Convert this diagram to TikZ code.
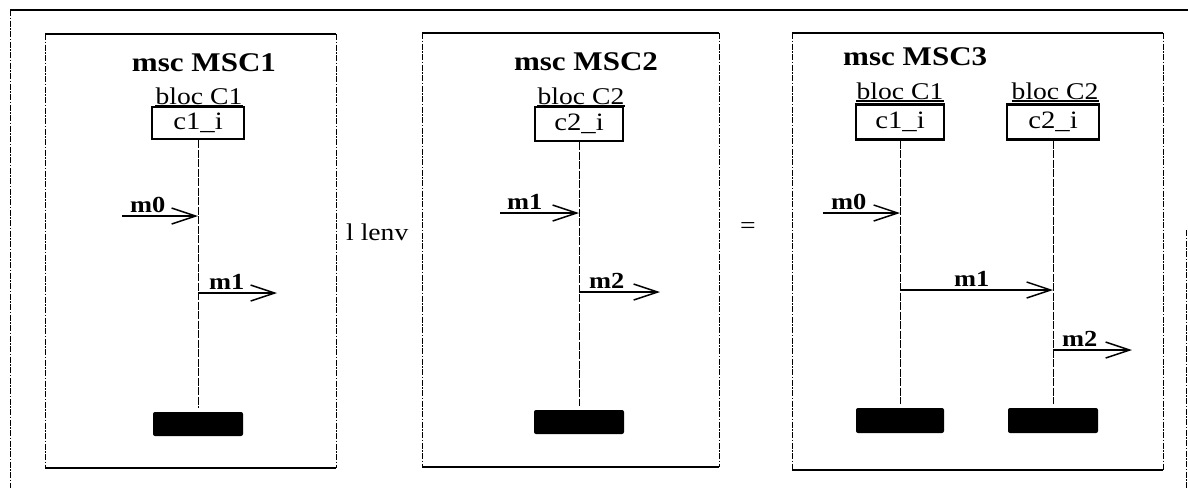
\documentclass[tikz,border=0pt]{standalone}
\usepackage{fontspec}
\setmainfont{Liberation Serif}[FakeStretch=1.15]
\usetikzlibrary{arrows.meta}
\begin{document}
\begin{tikzpicture}[x=1pt,y=-1pt,
  frameside/.style={line width=1pt, dash pattern=on 6pt off 1.5pt on 1.5pt off 1.5pt},
  frameedge/.style={line width=2.2pt},
  inst/.style={draw, line width=2.4pt, minimum width=90pt, minimum height=33pt, inner sep=0pt, font=\fontsize{25}{28}\selectfont},
  stopbar/.style={fill=black, rounded corners=2pt, minimum width=90pt, minimum height=24pt, inner sep=0pt},
  life/.style={line width=1pt, dash pattern=on 8pt off 1.5pt, shorten >=4pt},
  msg/.style={line width=1.5pt, -{Straight Barb[length=24pt,width=16pt,line width=1.5pt]}},
  titletxt/.style={font=\bfseries\fontsize{27}{30}\selectfont, inner sep=0pt, anchor=base},
  bloctxt/.style={font=\fontsize{24}{26}\selectfont, inner sep=0pt, anchor=base},
  mlab/.style={font=\bfseries\fontsize{23}{26}\selectfont, inner sep=0pt, anchor=base west},
  optxt/.style={font=\fontsize{24}{28}\selectfont, inner sep=0pt}
]
\useasboundingbox (0,0) rectangle (1188,488);
\fill[white] (0,0) rectangle (1188,488);

% outer frame
\draw[frameedge] (10,10) -- (1188,10);
\draw[frameside] (10,10) -- (10,488);
\draw[frameside] (1186,230) -- (1186,488);

% frames of the three MSCs
\draw[frameedge] (45,34) -- (336,34);
\draw[frameedge] (45,468) -- (336,468);
\draw[frameside] (45,34) -- (45,468);
\draw[frameside] (336,34) -- (336,468);

\draw[frameedge] (422,33) -- (719,33);
\draw[frameedge] (422,467) -- (719,467);
\draw[frameside] (422,33) -- (422,467);
\draw[frameside] (719,33) -- (719,467);

\draw[frameedge] (792,33) -- (1163,33);
\draw[frameedge] (792,470) -- (1163,470);
\draw[frameside] (792,33) -- (792,470);
\draw[frameside] (1163,33) -- (1163,470);

% ---------- MSC1 ----------
\node[titletxt] (t1) at (204,71) {msc MSC1};
\node[bloctxt] (bl1) at (199,104) {bloc C1};
\draw[line width=1.4pt] ([yshift=-2pt]bl1.base west) -- ([yshift=-2pt]bl1.base east);
\node[inst, minimum width=92pt, minimum height=32pt] (i1) at (198,123) {c1\_i};
\node[stopbar] (e1) at (198,424) {};
\draw[life] (i1.south) -- (e1.north);
\coordinate (p1a) at (122,216);
\draw[msg] (p1a) -- (p1a -| i1);
\node[mlab] (l1a) at (130,212) {m0};
\coordinate (p1b) at (277,293);
\draw[msg] (p1b -| i1) -- (p1b);
\node[mlab] (l1b) at (209,289) {m1};

% operators
\node[optxt, anchor=base west] (op1) at (346,240) {l lenv};
\node[optxt] (op2) at (748,228) {=};

% ---------- MSC2 ----------
\node[titletxt] (t2) at (586,70) {msc MSC2};
\node[bloctxt] (bl2) at (581,104) {bloc C2};
\draw[line width=1.4pt] ([yshift=-2pt]bl2.base west) -- ([yshift=-2pt]bl2.base east);
\node[inst, minimum width=88pt, minimum height=34pt] (i2) at (579,124) {c2\_i};
\node[stopbar] (e2) at (579,422) {};
\draw[life] (i2.south) -- (e2.north);
\coordinate (p2a) at (500,213);
\draw[msg] (p2a) -- (p2a -| i2);
\node[mlab] (l2a) at (507,209) {m1};
\coordinate (p2b) at (660,292);
\draw[msg] (p2b -| i2) -- (p2b);
\node[mlab] (l2b) at (589,288) {m2};

% ---------- MSC3 ----------
\node[titletxt, anchor=base west] (t3) at (843,65) {msc MSC3};
\node[bloctxt] (bl3a) at (900,99) {bloc C1};
\draw[line width=1.4pt] ([yshift=-2pt]bl3a.base west) -- ([yshift=-2pt]bl3a.base east);
\node[bloctxt] (bl3b) at (1055,99) {bloc C2};
\draw[line width=1.4pt] ([yshift=-2pt]bl3b.base west) -- ([yshift=-2pt]bl3b.base east);
\node[inst, minimum width=88pt, minimum height=35pt] (i3a) at (900,122) {c1\_i};
\node[inst, minimum width=92pt, minimum height=35pt] (i3b) at (1053,122) {c2\_i};
\node[stopbar, minimum width=88pt, minimum height=25pt] (e3a) at (900,420.5) {};
\node[stopbar, minimum width=90pt, minimum height=25pt] (e3b) at (1053,420.5) {};
\draw[life] (i3a.south) -- (e3a.north);
\draw[life] (i3b.south) -- (e3b.north);
\coordinate (p3a) at (823,213);
\draw[msg] (p3a) -- (p3a -| i3a);
\node[mlab] (l3a) at (831,209) {m0};
\coordinate (p3b) at (900,290);
\draw[msg] (p3b) -- (p3b -| i3b);
\node[mlab] (l3b) at (954,286) {m1};
\coordinate (p3c) at (1132,350);
\draw[msg] (p3c -| i3b) -- (p3c);
\node[mlab] (l3c) at (1062,346) {m2};
\end{tikzpicture}
\end{document}
